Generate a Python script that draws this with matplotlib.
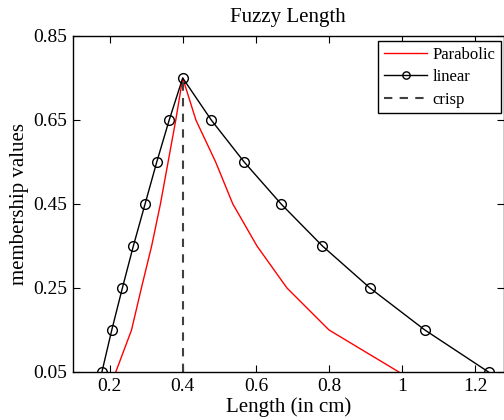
import matplotlib
matplotlib.use("Agg")
import matplotlib.pyplot as plt

plt.rcParams['font.family'] = ['Liberation Serif', 'DejaVu Serif']
plt.rcParams['mathtext.fontset'] = 'stix'

# Data
lin_x = [0.179, 0.206, 0.235, 0.265, 0.297, 0.329, 0.363, 0.400,
         0.478, 0.568, 0.669, 0.782, 0.912, 1.062, 1.236]
lin_y = [0.05, 0.15, 0.25, 0.35, 0.45, 0.55, 0.65, 0.75,
         0.65, 0.55, 0.45, 0.35, 0.25, 0.15, 0.05]
par_x = [0.217, 0.260, 0.287, 0.315, 0.339, 0.360, 0.381, 0.400,
         0.436, 0.490, 0.537, 0.603, 0.685, 0.800, 0.991]
par_y = [0.05, 0.15, 0.25, 0.35, 0.45, 0.55, 0.65, 0.75,
         0.65, 0.55, 0.45, 0.35, 0.25, 0.15, 0.05]
crisp_x = [0.4, 0.4]
crisp_y = [0.05, 0.75]
xticks = [0.2, 0.4, 0.6, 0.8, 1.0, 1.2]
xticklabels = ['0.2', '0.4', '0.6', '0.8', '1', '1.2']
yticks = [0.05, 0.25, 0.45, 0.65, 0.85]
yticklabels = ['0.05', '0.25', '0.45', '0.65', '0.85']

fig = plt.figure(figsize=(5.04, 4.2), dpi=100)
W, H = 504, 420
ax = fig.add_axes([73 / W, 1 - 372 / H, (503.5 - 73) / W, (372 - 36) / H])

ax.plot(par_x, par_y, color='#ff0000', lw=1.0, label='Parabolic')
ax.plot(lin_x, lin_y, color='black', lw=1.0, marker='o', markersize=7,
        markerfacecolor='none', markeredgecolor='black', markeredgewidth=1.0,
        label='linear')
ax.plot(crisp_x, crisp_y, color='#404040', lw=1.5, linestyle=(0, (4, 3.5)),
        label='crisp')

ax.set_xlim(0.1, 1.277)
ax.set_ylim(0.05, 0.85)
ax.set_xticks(xticks)
ax.set_xticklabels(xticklabels)
ax.set_yticks(yticks)
ax.set_yticklabels(yticklabels)
ax.tick_params(direction='in', top=True, right=True, labelsize=14, length=5,
               width=0.8, pad=4)
for s in ax.spines.values():
    s.set_linewidth(1.0)

ax.set_title('Fuzzy Length', fontsize=15, pad=10)
ax.set_xlabel('Length (in cm)', fontsize=15, labelpad=2)
ax.set_ylabel('membership values', fontsize=15, labelpad=3)

leg = ax.legend(loc='upper right', bbox_to_anchor=(501 / W, 1 - 41 / H),
                bbox_transform=fig.transFigure, borderaxespad=0,
                fontsize=12, frameon=True, fancybox=False,
                edgecolor='black', framealpha=1, markerscale=0.75,
                handlelength=2.6, handletextpad=0.3, labelspacing=0.38,
                borderpad=0.35)
leg.get_frame().set_linewidth(1.0)

fig.savefig('out.png', dpi=100)
